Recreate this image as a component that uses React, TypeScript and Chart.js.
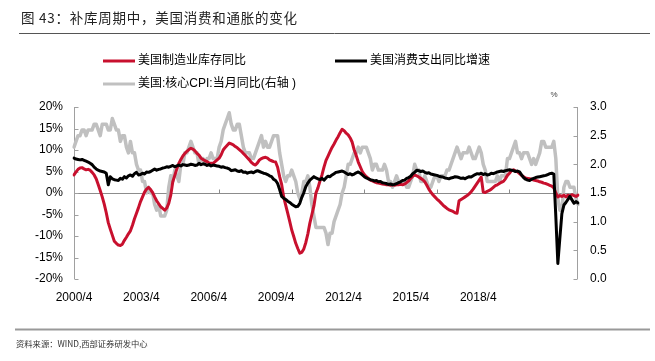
import React, { useEffect, useRef } from 'react';
import { Chart, registerables } from 'chart.js';

Chart.register(...registerables);

// ---------- data ----------
const months: string[] = [];
for (let y = 2000; y <= 2021; y++) {
  for (let m = 1; m <= 12; m++) {
    if ((y === 2000 && m < 4) || (y === 2021 && m > 2)) continue;
    months.push(`${y}/${m}`);
  }
}

// category labels printed under the axis, and the months that carry a tick mark
const tickLabels = ['2000/4', '2003/4', '2006/4', '2009/4', '2012/4', '2015/4', '2018/4'];
const tickMarkMonths = ['2000/4', '2003/4', '2006/4', '2009/4', '2012/4', '2015/4', '2018/4'];

// 美国制造业库存同比 (%)
const inventoryYoY = [
  4.2, 4.9, 5.5, 5.8, 5.9, 5.6, 5.4, 5.5, 5.3,
  4.8, 4.2, 3.3, 2.0, 0.6, -0.9, -2.6, -4.6, -6.9, -8.4, -9.8, -11.2,
  -11.7, -12.1, -12.2, -11.9, -11.0, -10.3, -9.5, -8.8, -7.5, -6.0, -4.7, -3.4,
  -2.0, -0.9, 0.2, 0.9, 1.3, 0.8, 0.1, -0.9, -1.8, -2.5, -3.2, -3.6,
  -4.0, -3.5, -2.4, -0.5, 2.6, 4.1, 5.6, 6.9, 7.8, 8.6, 9.2, 9.7,
  10.1, 10.4, 10.2, 9.8, 9.2, 8.8, 8.1, 7.8, 7.5, 7.3, 7.0, 6.9,
  6.9, 7.3, 7.7, 8.1, 8.9, 10.0, 10.6, 11.1, 11.6, 11.4, 11.2, 10.8,
  10.5, 10.1, 9.7, 9.2, 8.7, 8.2, 7.7, 7.1, 6.7, 6.5, 7.0, 7.7,
  8.0, 8.2, 8.3, 8.1, 7.7, 7.5, 7.3, 7.2, 6.0, 3.8, 2.0, -0.9,
  -2.8, -4.7, -6.6, -8.6, -10.1, -11.7, -12.9, -14.0, -13.8, -13.0, -11.5, -9.5,
  -7.0, -5.0, -3.0, 0.0, 1.2, 2.8, 4.2, 6.0, 7.6, 8.6, 9.6, 10.6,
  11.4, 12.3, 13.1, 14.0, 14.8, 14.5, 13.9, 13.5, 12.8, 11.8, 10.0, 8.7,
  7.2, 6.1, 5.0, 4.3, 3.8, 3.4, 3.0, 2.8, 2.6, 2.4, 2.3, 2.2,
  2.1, 2.0, 1.9, 1.9, 1.8, 1.9, 1.8, 1.9, 1.9, 2.0, 1.9, 2.1,
  2.4, 2.8, 3.4, 3.9, 4.2, 4.0, 3.7, 3.4, 3.1, 2.6, 1.8, 0.9,
  0.2, -0.4, -0.9, -1.4, -1.8, -2.3, -2.8, -3.2, -3.6, -3.9, -4.1, -4.3,
  -4.6, -4.7, -1.8, -1.5, -1.2, -0.9, -0.6, -0.2, 0.3, 0.9, 1.6, 2.3,
  3.0, 3.7, 0.2, 0.1, 0.4, 0.6, 0.9, 1.3, 1.7, 1.9, 2.2, 2.5,
  2.7, 3.3, 4.1, 4.6, 5.2, 5.4, 5.1, 4.9, 4.5, 4.1, 3.8, 3.5,
  3.4, 3.3, 3.2, 3.0, 2.9, 2.8, 2.6, 2.5, 2.3, 2.2, 2.0, 1.8,
  1.6, 1.2, 0.0, -0.9, -0.6, -0.8, -0.5, -0.9, -0.5, -0.7, -0.4, -0.6,
  -0.8, -0.5,
];

// 美国消费支出同比增速 (%)
const consumptionYoY = [
  8.1, 7.9, 7.8, 7.7, 7.8, 7.6, 7.4, 7.2, 6.9,
  6.6, 6.0, 5.6, 5.3, 5.1, 5.0, 4.9, 4.6, 1.9, 3.8, 3.3, 3.1,
  3.0, 2.9, 3.4, 3.2, 3.8, 3.5, 4.0, 4.2, 3.9, 4.5, 4.8, 4.2,
  4.3, 4.6, 4.4, 4.9, 4.8, 5.0, 5.3, 5.6, 5.3, 5.5, 5.6, 5.8,
  5.9, 6.1, 6.0, 6.2, 6.4, 6.1, 6.3, 6.5, 6.3, 6.6, 6.5, 6.4,
  6.5, 6.7, 6.6, 6.4, 6.5, 6.9, 6.6, 6.8, 6.7, 6.4, 6.6, 6.3,
  6.5, 6.4, 6.3, 6.2, 6.0, 6.1, 5.9, 5.8, 5.6, 5.2, 5.3, 5.4,
  5.1, 5.0, 5.2, 4.8, 4.9, 4.6, 4.8, 4.9, 4.7, 5.0, 5.2, 5.0,
  4.8, 4.6, 4.5, 4.3, 4.0, 3.8, 3.2, 2.9, 2.2, 0.8, -0.8, -1.2,
  -1.5, -1.9, -2.2, -2.6, -2.9, -3.2, -3.1, -2.4, -1.0, 0.1, 1.5, 2.3,
  3.0, 3.4, 3.8, 3.5, 3.3, 3.1, 3.4, 3.0, 3.5, 3.9, 3.8, 4.2,
  4.5, 4.8, 4.9, 5.0, 5.1, 4.9, 4.6, 4.3, 4.5, 4.2, 4.4, 4.7,
  4.9, 4.6, 4.2, 3.8, 3.5, 3.3, 3.1, 3.0, 2.8, 2.9, 2.6, 2.7,
  2.4, 2.3, 2.2, 2.0, 2.1, 1.9, 2.0, 2.2, 2.4, 2.6, 2.9, 3.0,
  3.4, 3.6, 3.9, 4.5, 4.8, 5.3, 5.2, 5.0, 5.1, 4.8, 4.6, 4.7,
  4.4, 4.3, 4.2, 4.1, 3.9, 3.8, 3.7, 3.5, 3.4, 3.3, 3.5, 3.6,
  3.8, 3.7, 3.6, 3.4, 3.5, 3.3, 3.6, 3.8, 3.7, 4.0, 4.3, 4.5,
  4.4, 4.6, 4.3, 4.5, 4.2, 4.3, 4.6, 4.5, 4.7, 4.9, 5.0, 5.1,
  5.0, 5.2, 5.3, 5.4, 5.3, 5.2, 5.0, 5.1, 4.9, 4.2, 3.6, 3.2,
  3.0, 2.9, 3.2, 3.4, 3.6, 3.7, 3.8, 3.9, 4.0, 4.1, 4.3, 4.5,
  4.6, 4.4, -5.5, -16.4, -10.5, -4.8, -2.8, -2.2, -1.5, -0.8, -1.6, -2.4,
  -2.0, -2.3,
];

// 美国:核心CPI:当月同比 (右轴, %)
const coreCpiYoY = [
  2.3, 2.4, 2.5, 2.5, 2.6, 2.6, 2.5, 2.6, 2.6,
  2.6, 2.7, 2.7, 2.6, 2.5, 2.7, 2.7, 2.7, 2.6, 2.6, 2.8, 2.7,
  2.6, 2.6, 2.4, 2.5, 2.5, 2.3, 2.2, 2.4, 2.2, 2.2, 2.0, 1.9,
  1.9, 1.7, 1.7, 1.5, 1.6, 1.5, 1.5, 1.3, 1.2, 1.3, 1.1, 1.1,
  1.1, 1.2, 1.6, 1.8, 1.7, 1.9, 1.8, 1.7, 2.0, 2.0, 2.2, 2.2,
  2.3, 2.4, 2.3, 2.2, 2.2, 2.0, 2.1, 2.1, 2.0, 2.1, 2.1, 2.2,
  2.1, 2.1, 2.1, 2.3, 2.4, 2.6, 2.7, 2.8, 2.9, 2.7, 2.6, 2.6,
  2.7, 2.7, 2.5, 2.3, 2.2, 2.2, 2.2, 2.1, 2.1, 2.2, 2.3, 2.4,
  2.5, 2.3, 2.4, 2.3, 2.3, 2.4, 2.5, 2.5, 2.5, 2.2, 2.0, 1.8,
  1.7, 1.8, 1.8, 1.9, 1.8, 1.7, 1.5, 1.4, 1.5, 1.7, 1.7, 1.8,
  1.6, 1.3, 1.1, 0.9, 0.9, 0.9, 0.9, 0.9, 0.8, 0.6, 0.8, 0.8,
  1.0, 1.1, 1.2, 1.3, 1.5, 1.6, 1.8, 2.0, 2.0, 2.1, 2.2, 2.2,
  2.3, 2.2, 2.3, 2.3, 2.3, 2.2, 2.1, 1.9, 2.0, 2.0, 1.9, 1.9,
  1.9, 2.0, 1.9, 1.7, 1.7, 1.6, 1.7, 1.8, 1.7, 1.7, 1.7, 1.7,
  1.6, 1.6, 1.7, 1.8, 2.0, 1.9, 1.9, 1.7, 1.7, 1.8, 1.7, 1.6,
  1.6, 1.7, 1.8, 1.8, 1.7, 1.8, 1.8, 1.8, 1.9, 1.9, 2.0, 2.1,
  2.2, 2.3, 2.2, 2.1, 2.2, 2.2, 2.2, 2.3, 2.2, 2.1, 2.1, 2.2,
  2.3, 2.2, 2.0, 1.9, 1.7, 1.7, 1.7, 1.7, 1.7, 1.8, 1.7, 1.8,
  1.8, 1.8, 2.1, 2.1, 2.2, 2.3, 2.4, 2.2, 2.2, 2.1, 2.2, 2.2,
  2.2, 2.1, 2.0, 2.1, 2.0, 2.1, 2.2, 2.4, 2.4, 2.3, 2.3, 2.3,
  2.3, 2.4, 2.1, 1.4, 1.2, 1.2, 1.6, 1.7, 1.7, 1.6, 1.6, 1.6,
  1.4, 1.3,
];

const leftTicks = { min: -20, max: 20, step: 5 };
const rightTicks = { min: 0, max: 3, step: 0.5 };

const titleText = '图 43：补库周期中，美国消费和通胀的变化';
const sourceText = '资料来源：WIND,西部证券研发中心';
const seriesNames = ['美国制造业库存同比', '美国消费支出同比增速', '美国:核心CPI:当月同比(右轴 )'];

// ---------- styles ----------
const RED = '#C8102E';
const BLACK = '#000000';
const GRAY = '#C0C0C0';
const AXIS = '#A0A0A0';
const LATIN = '"Liberation Sans", Arial, "Noto Sans CJK SC", sans-serif';
const CJK = '"Noto Sans CJK SC", "Liberation Sans", sans-serif';
// the printed labels are spaced a little tighter than the tick marks (as in the source)
const LABEL_SLOTS = 7.48;

const decor = {
  id: 'decor',
  beforeDatasetsDraw(chart: any) {
    const { ctx, chartArea: a, scales } = chart;
    const y0 = Math.round(scales.y.getPixelForValue(0)) + 0.5;
    ctx.save();
    ctx.lineWidth = 1;
    ctx.strokeStyle = '#8C8C8C';
    ctx.beginPath();
    ctx.moveTo(a.left, y0);
    ctx.lineTo(a.right, y0);
    ctx.stroke();
    tickMarkMonths.forEach((l) => {
      const i = months.indexOf(l);
      if (i < 0) return;
      const x = Math.round(scales.x.getPixelForValue(i)) + 0.5;
      ctx.beginPath();
      ctx.moveTo(x, y0);
      ctx.lineTo(x, y0 - 4);
      ctx.stroke();
    });
    ctx.strokeStyle = AXIS;
    const lx = Math.round(a.left) + 0.5;
    ctx.beginPath();
    ctx.moveTo(lx, a.top);
    ctx.lineTo(lx, a.bottom);
    ctx.stroke();
    scales.y.ticks.forEach((t: any) => {
      const y = Math.round(scales.y.getPixelForValue(t.value)) + 0.5;
      ctx.beginPath();
      ctx.moveTo(lx, y);
      ctx.lineTo(lx + 4, y);
      ctx.stroke();
    });
    const rx = Math.round(a.right) - 0.5;
    ctx.beginPath();
    ctx.moveTo(rx, a.top);
    ctx.lineTo(rx, a.bottom);
    ctx.stroke();
    scales.y1.ticks.forEach((t: any) => {
      const y = Math.round(scales.y1.getPixelForValue(t.value)) + 0.5;
      ctx.beginPath();
      ctx.moveTo(rx, y);
      ctx.lineTo(rx - 4, y);
      ctx.stroke();
    });
    ctx.restore();
  },
  afterDraw(chart: any) {
    const { ctx } = chart;
    ctx.save();
    ctx.fillStyle = '#222';
    ctx.font = `13.5px ${CJK}`;
    ctx.textBaseline = 'middle';
    ctx.textAlign = 'left';
    try { (ctx as any).letterSpacing = '0.75px'; } catch (e) {}
    ctx.fillText(titleText, 21, 18);
    try { (ctx as any).letterSpacing = '0px'; } catch (e) {}
    ctx.strokeStyle = '#555';
    ctx.lineWidth = 1;
    ctx.beginPath();
    ctx.moveTo(19, 33.5);
    ctx.lineTo(650, 33.5);
    ctx.stroke();
    const items = [
      { c: RED, x: 103, y: 61, t: seriesNames[0] },
      { c: BLACK, x: 335, y: 61, t: seriesNames[1] },
      { c: GRAY, x: 103, y: 84, t: seriesNames[2] },
    ];
    ctx.font = `12px ${LATIN}`;
    items.forEach((it) => {
      ctx.strokeStyle = it.c;
      ctx.lineWidth = 3;
      ctx.beginPath();
      ctx.moveTo(it.x, it.y);
      ctx.lineTo(it.x + 32, it.y);
      ctx.stroke();
      ctx.fillStyle = '#000';
      ctx.fillText(it.t, it.x + 35, it.y);
    });
    ctx.font = `8px ${LATIN}`;
    ctx.fillStyle = '#444';
    ctx.textAlign = 'center';
    ctx.fillText('%', 554, 95);
    ctx.strokeStyle = '#999';
    ctx.lineWidth = 2;
    ctx.beginPath();
    ctx.moveTo(15, 329.5);
    ctx.lineTo(650, 329.5);
    ctx.stroke();
    ctx.textAlign = 'left';
    ctx.fillStyle = '#333';
    ctx.font = `8.3px ${CJK}`;
    ctx.fillText(sourceText, 16, 344);
    ctx.restore();
  },
};

export default function App() {
  const ref = useRef<HTMLCanvasElement | null>(null);

  useEffect(() => {
    if (!ref.current) return;
    const tickFont = { family: LATIN, size: 12 };
    const chart = new Chart(ref.current, {
      type: 'line',
      data: {
        labels: months,
        datasets: [
          { label: seriesNames[1], data: consumptionYoY, borderColor: BLACK, borderWidth: 3, yAxisID: 'y', xAxisID: 'x', order: 0 },
          { label: seriesNames[0], data: inventoryYoY, borderColor: RED, borderWidth: 3, yAxisID: 'y', xAxisID: 'x', order: 1 },
          { label: seriesNames[2], data: coreCpiYoY, borderColor: GRAY, borderWidth: 3.5, yAxisID: 'y1', xAxisID: 'x', order: 2 },
        ],
      },
      options: {
        responsive: false,
        animation: false,
        devicePixelRatio: 1,
        layout: { padding: { top: 107, left: 0, right: 0, bottom: 0 } },
        elements: {
          point: { radius: 0, hoverRadius: 0 },
          line: { tension: 0, borderJoinStyle: 'round', borderCapStyle: 'round' },
        },
        plugins: { legend: { display: false }, title: { display: false }, tooltip: { enabled: false } },
        events: [],
        scales: {
          x: {
            type: 'category',
            display: false,
            offset: false,
          },
          xl: {
            type: 'linear',
            position: 'bottom',
            min: 0,
            max: LABEL_SLOTS,
            grid: { display: false, drawTicks: false },
            border: { display: false },
            ticks: {
              stepSize: 1,
              autoSkip: false,
              includeBounds: false,
              maxRotation: 0,
              minRotation: 0,
              padding: 11,
              color: '#000',
              font: tickFont,
              callback: (v: any) => tickLabels[v] ?? '',
            },
            afterFit: (s: any) => {
              s.height = 82;
            },
          },
          y: {
            position: 'left',
            min: leftTicks.min,
            max: leftTicks.max,
            grid: { display: false, drawTicks: false },
            border: { display: false },
            ticks: {
              stepSize: leftTicks.step,
              padding: 11,
              color: '#000',
              font: tickFont,
              callback: (v: any) => `${v}%`,
            },
            afterFit: (s: any) => {
              s.width = 74;
            },
          },
          y1: {
            position: 'right',
            min: rightTicks.min,
            max: rightTicks.max,
            grid: { display: false, drawTicks: false },
            border: { display: false },
            ticks: {
              stepSize: rightTicks.step,
              padding: 12,
              color: '#000',
              font: tickFont,
              callback: (v: any) => Number(v).toFixed(1),
            },
            afterFit: (s: any) => {
              s.width = 77;
            },
          },
        },
      } as any,
      plugins: [decor],
    });
    return () => chart.destroy();
  }, []);

  return (
    <div style={{ position: 'absolute', left: 0, top: 0, width: 655, height: 361, background: '#fff' }}>
      <canvas ref={ref} width={655} height={361} style={{ display: 'block', width: 655, height: 361 }} />
    </div>
  );
}
